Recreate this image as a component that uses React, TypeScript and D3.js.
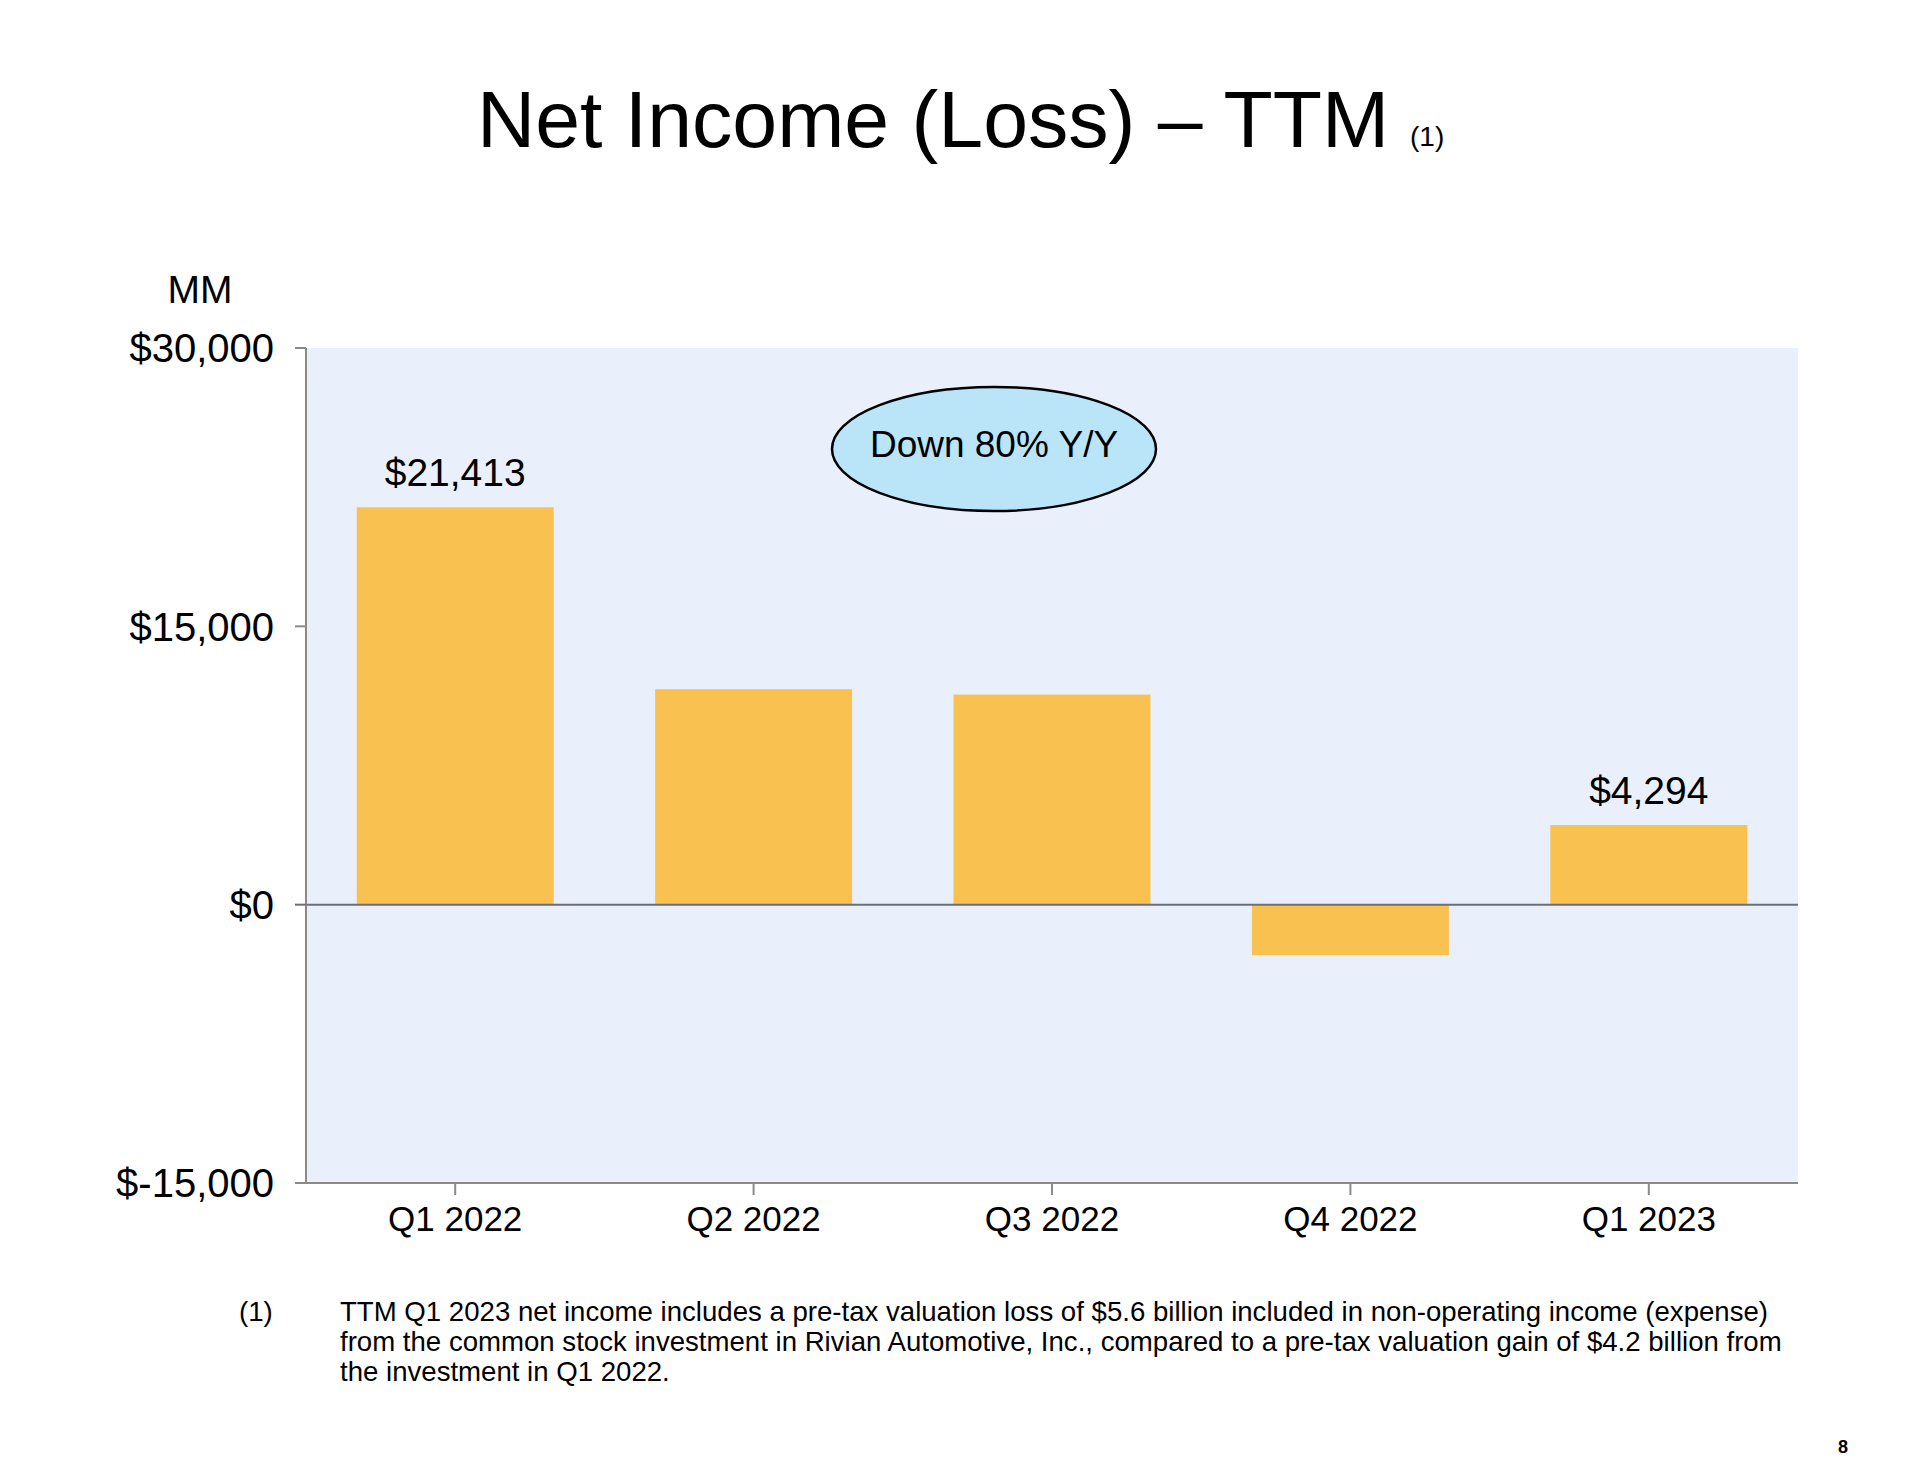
import React from "react";
import * as d3 from "d3";

const categories = ["Q1 2022", "Q2 2022", "Q3 2022", "Q4 2022", "Q1 2023"];
const values = [21413, 11607, 11323, -2722, 4294];
const valueLabels = ["$21,413", "", "", "", "$4,294"];
const yTicks = [30000, 15000, 0, -15000];
const yTickLabels = ["$30,000", "$15,000", "$0", "$-15,000"];
const title = "Net Income (Loss) – TTM";
const titleNote = "(1)";
const unitLabel = "MM";
const calloutText = "Down 80% Y/Y";
const footnoteMarker = "(1)";
const footnoteLines = [
  "TTM Q1 2023 net income includes a pre-tax valuation loss of $5.6 billion included in non-operating income (expense)",
  "from the common stock investment in Rivian Automotive, Inc., compared to a pre-tax valuation gain of $4.2 billion from",
  "the investment in Q1 2022.",
];
const pageNumber = "8";

const W = 1920;
const H = 1467;
const plotLeft = 306;
const plotRight = 1798;
const plotTop = 348;
const plotBottom = 1183;
const FONT = "Liberation Sans, Arial, Helvetica, sans-serif";

export default function App() {
  const x = d3
    .scaleBand<string>()
    .domain(categories)
    .range([plotLeft, plotRight])
    .paddingInner(0.34)
    .paddingOuter(0.17);
  const y = d3.scaleLinear().domain([-15000, 30000]).range([plotBottom, plotTop]);
  const bw = x.bandwidth();
  const center = (c: string) => (x(c) as number) + bw / 2;

  return (
    <svg
      width={W}
      height={H}
      style={{ position: "absolute", left: 0, top: 0, background: "#fff" }}
      fontFamily={FONT}
    >
      <rect x={0} y={0} width={W} height={H} fill="#ffffff" />
      {/* Title */}
      <text x={477} y={147} fontSize={80.6} fill="#000">
        {title}
      </text>
      <text x={1410} y={146} fontSize={28} fill="#000">
        {titleNote}
      </text>

      {/* Unit label */}
      <text x={200} y={303} fontSize={39} textAnchor="middle" fill="#000">
        {unitLabel}
      </text>

      {/* Plot background */}
      <rect
        x={plotLeft}
        y={plotTop}
        width={plotRight - plotLeft}
        height={plotBottom - plotTop}
        fill="#E9F0FC"
      />

      {/* Bars */}
      {values.map((v, i) => (
        <rect
          key={categories[i]}
          x={x(categories[i])}
          y={y(Math.max(0, v))}
          width={bw}
          height={Math.abs(y(v) - y(0))}
          fill="#F8C150"
        />
      ))}

      {/* Zero line */}
      <line x1={plotLeft} x2={plotRight} y1={y(0)} y2={y(0)} stroke="#6b6f75" strokeWidth={2} />

      {/* Y axis */}
      <line x1={plotLeft} x2={plotLeft} y1={plotTop} y2={plotBottom} stroke="#8a8a8a" strokeWidth={2} />
      {yTicks.map((t, i) => (
        <g key={t}>
          <line x1={plotLeft - 11} x2={plotLeft} y1={y(t)} y2={y(t)} stroke={t === 0 ? "#6b6f75" : "#8a8a8a"} strokeWidth={2} />
          <text x={274} y={y(t)} dy="0.36em" fontSize={40} textAnchor="end" fill="#000">
            {yTickLabels[i]}
          </text>
        </g>
      ))}

      {/* X axis */}
      <line x1={plotLeft - 11} x2={plotRight} y1={plotBottom} y2={plotBottom} stroke="#8a8a8a" strokeWidth={2} />
      {categories.map((c) => (
        <g key={c}>
          <line x1={center(c)} x2={center(c)} y1={plotBottom} y2={plotBottom + 12} stroke="#8a8a8a" strokeWidth={2} />
          <text x={center(c)} y={1231} fontSize={35} textAnchor="middle" fill="#000">
            {c}
          </text>
        </g>
      ))}

      {/* Value labels */}
      {values.map((v, i) =>
        valueLabels[i] ? (
          <text
            key={"l" + i}
            x={center(categories[i])}
            y={y(v) - 21}
            fontSize={39}
            textAnchor="middle"
            fill="#000"
          >
            {valueLabels[i]}
          </text>
        ) : null
      )}

      {/* Callout */}
      <ellipse cx={994} cy={449} rx={162} ry={62} fill="#BAE4F8" stroke="#000" strokeWidth={2.5} />
      <text x={994} y={457} fontSize={37} textAnchor="middle" fill="#000">
        {calloutText}
      </text>

      {/* Footnote */}
      <text x={239} y={1321} fontSize={27.6} fill="#000">
        {footnoteMarker}
      </text>
      {footnoteLines.map((l, i) => (
        <text key={i} x={340} y={1321 + i * 30} fontSize={27.6} fill="#000">
          {l}
        </text>
      ))}

      {/* Page number */}
      <text x={1843} y={1453} fontSize={18} fontWeight="bold" textAnchor="middle" fill="#000">
        {pageNumber}
      </text>
    </svg>
  );
}
